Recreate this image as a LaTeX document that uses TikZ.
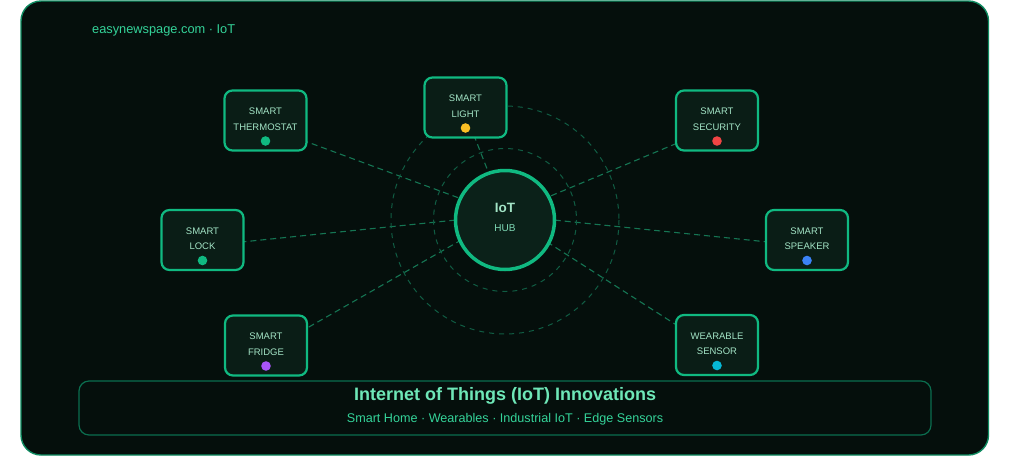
\documentclass[tikz,border=0pt]{standalone}
\usepackage{fontspec}
\setmainfont{Liberation Sans}
\usetikzlibrary{calc}
\definecolor{fondo}{HTML}{050F0C}
\definecolor{borde}{HTML}{0E8A60}
\definecolor{verde}{HTML}{10B981}
\definecolor{caja}{HTML}{0A1D16}
\definecolor{hubfondo}{HTML}{0B2119}
\definecolor{texto}{HTML}{A3E4C6}
\definecolor{titulo}{HTML}{6EE7B7}
\definecolor{subtitulo}{HTML}{34D399}
\definecolor{linea}{HTML}{157553}
\definecolor{anillo}{HTML}{105C43}
\definecolor{banda}{HTML}{0B6E4F}
\definecolor{ptverde}{HTML}{10B981}
\definecolor{ptamarillo}{HTML}{FBBF24}
\definecolor{ptrojo}{HTML}{EF4444}
\definecolor{ptazul}{HTML}{3B82F6}
\definecolor{ptmorado}{HTML}{A855F7}
\definecolor{ptcian}{HTML}{06B6D4}
\pgfdeclarelayer{capafondo}
\pgfdeclarelayer{capalineas}
\pgfsetlayers{capafondo,capalineas,main}
\begin{document}
\begin{tikzpicture}[x=1pt,y=-1pt,
    disp/.style={draw=verde, line width=2.2pt, fill=caja, rounded corners=8pt,
      minimum width=82pt, minimum height=60pt, inner sep=0pt},
    etiqueta/.style={text=texto, font=\fontsize{9.5}{11}\selectfont},
    enlace/.style={draw=linea, line width=1.1pt, dash pattern=on 6pt off 4pt}]
    \useasboundingbox (0,0) rectangle (1024,469);

    % Marco oscuro
    \begin{pgfonlayer}{capafondo}
        \fill[white] (0,0) rectangle (1024,469);
        \filldraw[fill=fondo, draw=borde, line width=1.4pt, rounded corners=20pt] (21,1) rectangle (988.5,455);
    \end{pgfonlayer}
    \node[anchor=west, inner sep=0pt, text=subtitulo, font=\fontsize{12.8}{14}\selectfont] (marca) at (92,30) {easynewspage.com · IoT};

    % Anillos punteados
    \draw[anillo, line width=1pt, dash pattern=on 5pt off 5pt] (505,220) circle (71.5);
    \draw[anillo, line width=1pt, dash pattern=on 5pt off 5pt] (505,220) circle (114);

    % Nodo central
    \node[circle, draw=verde, line width=3.5pt, fill=hubfondo, minimum size=99pt] (hub) at (505,220) {};
    \node[text=texto, font=\bfseries\fontsize{13.5}{15}\selectfont] (hubtit) at ($(hub.center)+(0,-12)$) {IoT};
    \node[text=texto!75!verde, font=\fontsize{10}{12}\selectfont] (hubsub) at ($(hub.center)+(0,8)$) {HUB};

    % Dispositivos
    \foreach \n/\x/\y/\a/\b/\c in {termo/265.5/120.5/SMART/THERMOSTAT/ptverde,
        luz/465.5/107.5/SMART/LIGHT/ptamarillo,
        segur/717/120.5/SMART/SECURITY/ptrojo,
        cerradura/202.5/240/SMART/LOCK/ptverde,
        altavoz/807/240/SMART/SPEAKER/ptazul,
        nevera/266/345.5/SMART/FRIDGE/ptmorado,
        sensor/717/345/WEARABLE/SENSOR/ptcian}{
        \node[disp] (\n) at (\x,\y) {};
        \node[etiqueta] (\n-a) at ($(\n.center)+(0,-9)$) {\a};
        \node[etiqueta] (\n-b) at ($(\n.center)+(0,6.5)$) {\b};
        \fill[\c] ($(\n.center)+(0,20.5)$) circle (4.8);
        % Enlace con el hub
        \begin{pgfonlayer}{capalineas}
            \draw[enlace] ($(hub.center)+(0,-5)$) -- ($(\n.center)+(0,6)$);
        \end{pgfonlayer}
    }

    % Banda inferior
    \draw[banda, line width=1.2pt, rounded corners=10pt] (79,381) rectangle (931,435);
    \node[text=titulo, font=\bfseries\fontsize{18}{20}\selectfont] (titulo) at (505,396) {Internet of Things (IoT) Innovations};
    \node[text=subtitulo, font=\fontsize{12.6}{14}\selectfont] (lema) at (505,419) {Smart Home · Wearables · Industrial IoT · Edge Sensors};
\end{tikzpicture}
\end{document}
